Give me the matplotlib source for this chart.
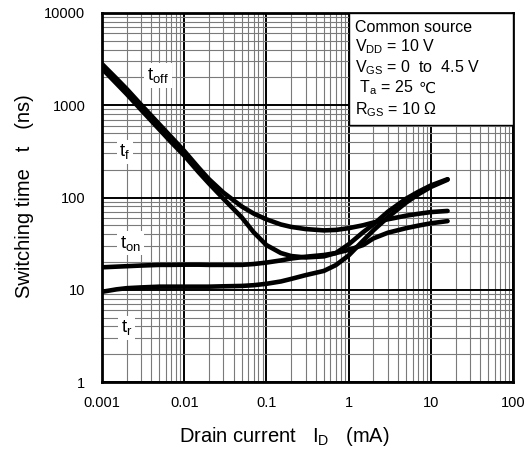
import numpy as np
import matplotlib
matplotlib.use('Agg')
import matplotlib.pyplot as plt
from matplotlib.patches import Rectangle
from matplotlib.ticker import FixedLocator, FixedFormatter, LogLocator, NullFormatter

plt.rcParams['font.family'] = ['Liberation Sans', 'DejaVu Sans']
plt.rcParams['mathtext.fontset'] = 'custom'
plt.rcParams['mathtext.rm'] = 'Liberation Sans'
plt.rcParams['mathtext.it'] = 'Liberation Sans'

# ---------------- dati ----------------
id_ma = [0.001, 0.0015, 0.002, 0.003, 0.005, 0.007, 0.01, 0.015, 0.02, 0.03,
         0.05, 0.07, 0.1, 0.15, 0.2, 0.3, 0.5, 0.7, 1, 1.5, 2, 3, 5, 7, 10, 16]

t_off = [2800, 1950, 1500, 1010, 620, 450, 320, 210, 158, 113,
         80, 67, 58, 51, 48, 45.5, 44, 44.5, 46.5, 50, 53.5, 58, 63.5, 66.5, 69.5, 71.5]
t_f = [2500, 1720, 1320, 890, 545, 395, 285, 188, 142, 97,
       61, 42, 30.5, 25, 23.2, 22.4, 23, 25, 31, 42, 51, 70, 97, 115, 135, 158]
t_on = [17.5, 17.8, 18, 18.3, 18.6, 18.6, 18.7, 18.7, 18.6, 18.6,
        18.6, 19, 19.7, 20.8, 21.8, 22.8, 23.8, 25, 27, 30.5, 36, 41.5, 46.5, 49.5, 52.5, 55.5]
t_r = [9.5, 10.1, 10.4, 10.6, 10.8, 10.8, 10.8, 10.8, 10.8, 10.9,
       11, 11.2, 11.6, 12.3, 13.1, 14.4, 16, 18.5, 23.5, 34, 44, 61, 88, 108, 130, 156]

x_ticks = [0.001, 0.01, 0.1, 1, 10, 100]
x_labels = ['0.001', '0.01', '0.1', '1', '10', '100']
y_ticks = [1, 10, 100, 1000, 10000]
y_labels = ['1', '10', '100', '1000', '10000']

# ---------------- grafico ----------------
fig = plt.figure(figsize=(5.32, 4.55), dpi=100)
ax = fig.add_axes([102 / 532, 1 - 382 / 455, 411 / 532, 369 / 455])
ax.set_xscale('log')
ax.set_yscale('log')
ax.set_xlim(0.001, 100)
ax.set_ylim(1, 10000)

for serie in (t_off, t_f, t_on, t_r):
    ax.plot(id_ma, serie, color='black', lw=3.3, solid_capstyle='round',
            solid_joinstyle='round', zorder=5)

ax.xaxis.set_major_locator(FixedLocator(x_ticks))
ax.xaxis.set_major_formatter(FixedFormatter(x_labels))
ax.yaxis.set_major_locator(FixedLocator(y_ticks))
ax.yaxis.set_major_formatter(FixedFormatter(y_labels))
ax.xaxis.set_minor_locator(LogLocator(base=10, subs=np.arange(2, 10), numticks=20))
ax.yaxis.set_minor_locator(LogLocator(base=10, subs=np.arange(2, 10), numticks=20))
ax.xaxis.set_minor_formatter(NullFormatter())
ax.yaxis.set_minor_formatter(NullFormatter())
ax.tick_params(which='both', length=0, labelsize=10.5)
ax.tick_params(axis='y', pad=12)
ax.tick_params(axis='x', pad=10)

ax.grid(which='major', color='black', lw=1.4, zorder=1)
ax.grid(which='minor', color='#7a7a7a', lw=0.8, zorder=1)
ax.set_axisbelow(True)
for sp in ax.spines.values():
    sp.set_linewidth(2)

# etichette curve
lab = dict(fontsize=13.5, ha='center', va='center', zorder=4,
           bbox=dict(facecolor='white', edgecolor='none', pad=2))
ax.text(0.0048, 2090, r'$\mathrm{t_{off}}$', **lab)
ax.text(0.0019, 312, r'$\mathrm{t_{f}}$', **lab)
ax.text(0.0022, 32, r'$\mathrm{t_{on}}$', **lab)
ax.text(0.002, 3.85, r'$\mathrm{t_{r}}$', **lab)

# riquadro condizioni
ax.add_patch(Rectangle((0.6, 0.6965), 0.4, 0.3035, transform=ax.transAxes,
                       facecolor='white', edgecolor='black', lw=1, zorder=3))
cond = ['Common source',
        r'V$_{\mathrm{DD}}$ = 10 V',
        r'V$_{\mathrm{GS}}$ = 0  to  4.5 V',
        r' T$_{\mathrm{a}}$ = 25',
        r'R$_{\mathrm{GS}}$ = 10 Ω']
ys = [27, 47, 68, 88, 110]
righe = []
for riga, yp in zip(cond, ys):
    righe.append(fig.text(355 / 532, 1 - yp / 455, riga, fontsize=11.5,
                          ha='left', va='center', zorder=6))

# simbolo ℃ (non presente in Liberation Sans) dopo la riga della temperatura
renderer = fig.canvas.get_renderer()
bb = righe[3].get_window_extent(renderer)
fig.text((bb.x1 + 5) / 532, 1 - 88 / 455, '℃', family='DejaVu Sans',
         fontsize=11, ha='left', va='center', zorder=6)

fig.text(284 / 532, 1 - 437 / 455, r'Drain current   I$_{\mathrm{D}}$   (mA)',
         fontsize=14.5, ha='center', va='center')
fig.text(25 / 532, 1 - 196 / 455, 'Switching time   t   (ns)',
         fontsize=14.5, ha='center', va='center', rotation=90)

fig.savefig('out.png', dpi=100)
